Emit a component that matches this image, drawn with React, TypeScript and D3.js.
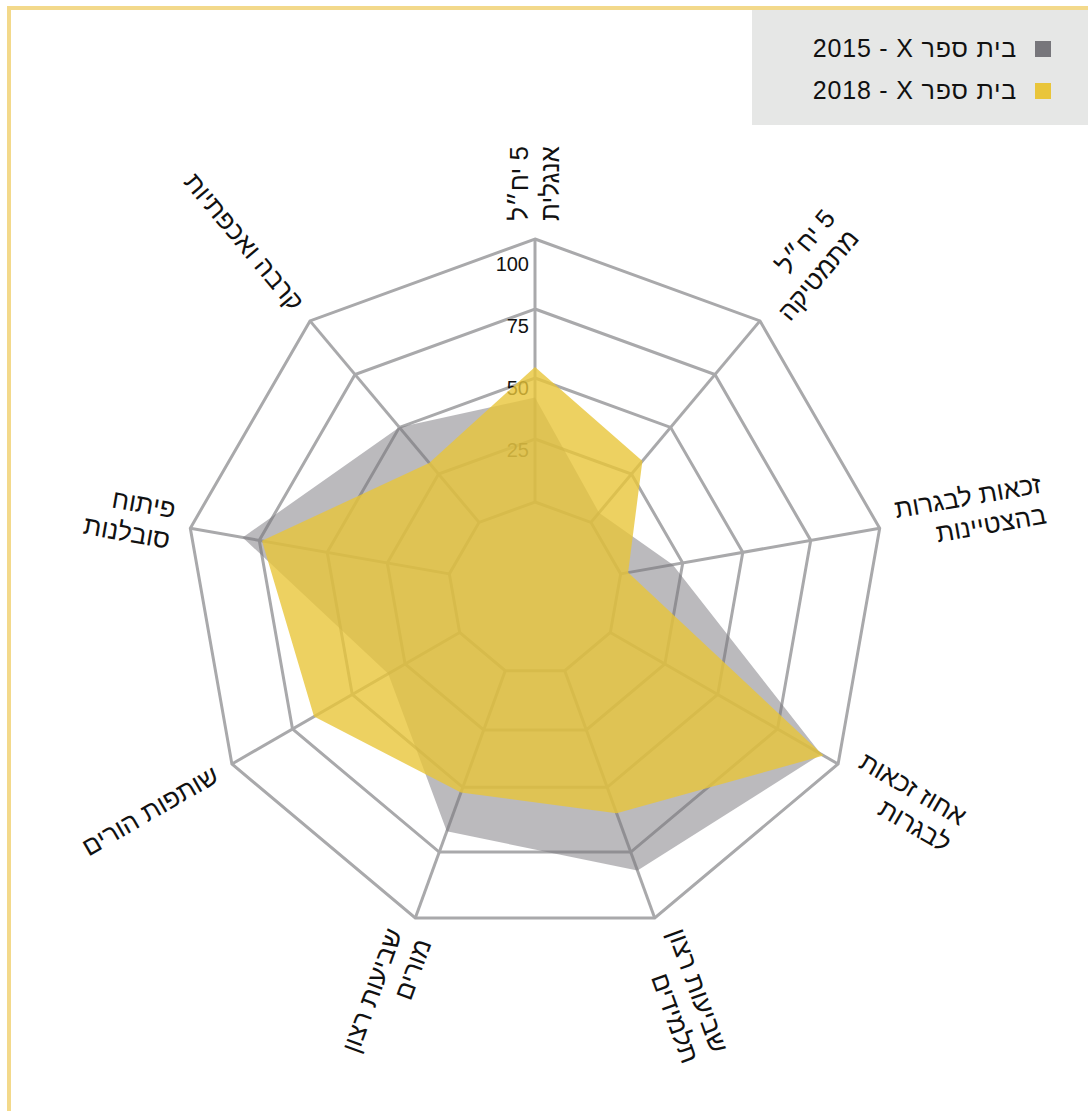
import React, { useEffect } from "react";
import * as d3 from "d3";

// axis labels, clockwise from the top
const axisLabels: string[][] = [
  ["5 יח״ל", "אנגלית"],
  ["5 יח״ל", "מתמטיקה"],
  ["זכאות לבגרות", "בהצטיינות"],
  ["אחוז זכאות", "לבגרות"],
  ["שביעות רצון", "תלמידים"],
  ["שביעות רצון", "מורים"],
  ["שותפות הורים"],
  ["פיתוח", "סובלנות"],
  ["קרבה ואכפתיות"],
];
const values2015 = [42, 5, 21, 93, 82, 67, 33, 81, 50];
const values2018 = [54, 32, 3, 94, 60, 52, 66, 74, 31];
const ringValues = [0, 25, 50, 75, 100];
const tickLabels = [25, 50, 75, 100];
// RLM keeps "2015" on the far left, as in an RTL layout
const legendLabels = ["בית ספר X\u200F - 2015", "בית ספר X\u200F - 2018"];

const W = 1088;
const H = 1111;
const cx = 535;
const cy = 589;
const font = "'Liberation Sans', 'DejaVu Sans', sans-serif";
const labelSize = 26;
const lineH = 31;
const gap = 18;

const colors = { s2015: "#77767b", s2018: "#e9c53a", grid: "#a9a9ab", border: "#f3d98b" };

const r = d3.scaleLinear().domain(ringValues).range([87, 150, 211, 280, 350]);
const tickPos = d3.scaleLinear().domain([0, 100]).range([70, 318]);
const angle = d3.scaleLinear().domain([0, axisLabels.length]).range([0, 2 * Math.PI]);
const R = r(100);

const radial = d3
  .lineRadial<number>()
  .angle((_, i) => angle(i))
  .radius((d) => r(d))
  .curve(d3.curveLinearClosed);

const pt = (i: number, rad: number): [number, number] => [
  cx + rad * Math.sin(angle(i)),
  cy - rad * Math.cos(angle(i)),
];

let ctx: CanvasRenderingContext2D | null = null;
const measure = (s: string) => {
  if (!ctx) {
    ctx = document.createElement("canvas").getContext("2d");
    if (ctx) ctx.font = `${labelSize}px ${font}`;
  }
  return ctx ? ctx.measureText(s).width : s.length * 13;
};

const AxisLabel = ({ lines, i }: { lines: string[]; i: number }) => {
  const deg = (angle(i) * 180) / Math.PI;
  const [x, y] = pt(i, R + gap);
  const right = deg <= 180;
  const rot = right ? deg - 90 : deg + 90;
  const maxW = d3.max(lines, measure) || 0;
  return (
    <g transform={`translate(${x},${y}) rotate(${rot})`}>
      {lines.map((l, k) => (
        <text
          key={k}
          x={right ? maxW : 0}
          y={(k - (lines.length - 1) / 2) * lineH + labelSize * 0.33}
          direction="rtl"
          textAnchor="start"
          fontSize={labelSize}
          fontFamily={font}
          fill="#111"
        >
          {l}
        </text>
      ))}
    </g>
  );
};

const App = () => {
  useEffect(() => {
    document.body.style.margin = "0";
  }, []);

  const rings = ringValues.map((v) => radial(axisLabels.map(() => v)) as string);

  return (
    <svg width={W} height={H} style={{ display: "block", background: "#fff" }}>
      <path d={`M9,${H} V8 H${W}`} fill="none" stroke={colors.border} strokeWidth={4} />
      <rect x={752} y={10} width={W - 752} height={115} fill="#e6e7e6" />
      {legendLabels.map((l, j) => (
        <g key={j}>
          <rect x={1035} y={41 + j * 42} width={16} height={16} fill={j === 0 ? colors.s2015 : colors.s2018} />
          <text
            x={1017}
            y={57 + j * 42}
            direction="rtl"
            textAnchor="start"
            fontSize={25}
            letterSpacing={0.8}
            fontFamily={font}
            fill="#111"
          >
            {l}
          </text>
        </g>
      ))}

      <g transform={`translate(${cx},${cy})`}>
        {rings.map((d, k) => (
          <path key={k} d={d} fill="none" stroke={colors.grid} strokeWidth={3} />
        ))}
      </g>
      {axisLabels.map((_, i) => {
        const [x1, y1] = pt(i, r(0));
        const [x2, y2] = pt(i, R);
        return <line key={i} x1={x1} y1={y1} x2={x2} y2={y2} stroke={colors.grid} strokeWidth={3} />;
      })}
      {tickLabels.map((v) => (
        <text key={v} x={cx - 6} y={cy - tickPos(v)} textAnchor="end" fontSize={20} fontFamily={font} fill="#111">
          {v}
        </text>
      ))}

      <g transform={`translate(${cx},${cy})`}>
        <path d={radial(values2015) as string} fill={colors.s2015} fillOpacity={0.5} />
        <path d={radial(values2018) as string} fill={colors.s2018} fillOpacity={0.8} />
      </g>

      {axisLabels.map((lines, i) => (
        <AxisLabel key={i} lines={lines} i={i} />
      ))}
    </svg>
  );
};

export default App;
